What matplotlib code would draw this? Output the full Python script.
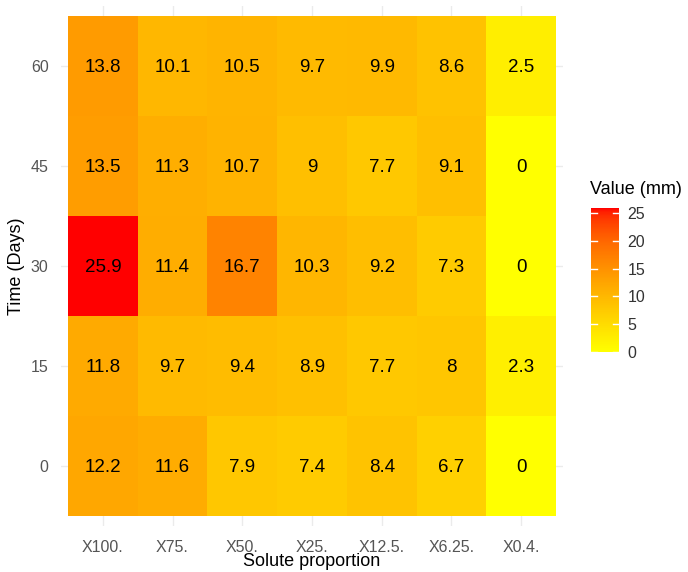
import matplotlib.pyplot as plt
import numpy as np
from matplotlib.colors import ListedColormap, Normalize

# heatmap values (mm), rows = time, cols = solute proportion
solutes = ['X100.', 'X75.', 'X50.', 'X25.', 'X12.5.', 'X6.25.', 'X0.4.']
days = ['0', '15', '30', '45', '60']
day0 = [12.2, 11.6, 7.9, 7.4, 8.4, 6.7, 0]
day15 = [11.8, 9.7, 9.4, 8.9, 7.7, 8, 2.3]
day30 = [25.9, 11.4, 16.7, 10.3, 9.2, 7.3, 0]
day45 = [13.5, 11.3, 10.7, 9, 7.7, 9.1, 0]
day60 = [13.8, 10.1, 10.5, 9.7, 9.9, 8.6, 2.5]

values = np.array([day0, day15, day30, day45, day60])


# yellow -> red gradient interpolated in Lab space
def rgb2lab(c):
    c = np.asarray(c, float)
    lin = np.where(c > 0.04045, ((c + 0.055) / 1.055) ** 2.4, c / 12.92)
    M = np.array([[0.4124, 0.3576, 0.1805],
                  [0.2126, 0.7152, 0.0722],
                  [0.0193, 0.1192, 0.9505]])
    xyz = M @ lin / np.array([0.95047, 1.0, 1.08883])
    f = np.where(xyz > 0.008856, np.cbrt(xyz), 7.787 * xyz + 16 / 116)
    return np.array([116 * f[1] - 16, 500 * (f[0] - f[1]), 200 * (f[1] - f[2])])


def lab2rgb(lab):
    L, a, b = lab
    fy = (L + 16) / 116
    fx = fy + a / 500
    fz = fy - b / 200
    f = np.array([fx, fy, fz])
    xyz = np.where(f ** 3 > 0.008856, f ** 3, (f - 16 / 116) / 7.787)
    xyz = xyz * np.array([0.95047, 1.0, 1.08883])
    Minv = np.array([[3.2406, -1.5372, -0.4986],
                     [-0.9689, 1.8758, 0.0415],
                     [0.0557, -0.2040, 1.0570]])
    lin = Minv @ xyz
    c = np.where(lin > 0.0031308, 1.055 * np.clip(lin, 0, None) ** (1 / 2.4) - 0.055, 12.92 * lin)
    return np.clip(c, 0, 1)


lab_lo = rgb2lab([1, 1, 0])
lab_hi = rgb2lab([1, 0, 0])
cols = [lab2rgb(lab_lo + t * (lab_hi - lab_lo)) for t in np.linspace(0, 1, 256)]
cmap = ListedColormap(cols)
norm = Normalize(vmin=0, vmax=values.max())

plt.rcParams['font.family'] = ['Liberation Sans', 'DejaVu Sans']

fig = plt.figure(figsize=(6.88, 5.72), dpi=100)
W, H = 688, 572
ax = fig.add_axes([61 / W, 1 - 526 / H, 502 / W, 520 / H])

ax.pcolormesh(np.arange(len(solutes) + 1) - 0.5, np.arange(len(days) + 1) - 0.5,
              values, cmap=cmap, norm=norm, zorder=2)
for i in range(len(days)):
    for j in range(len(solutes)):
        ax.text(j, i, '{:g}'.format(values[i, j]), ha='center', va='center_baseline',
                fontsize=13.5, color='black', zorder=3)

ax.set_xlim(-0.6, len(solutes) - 0.4)
ax.set_ylim(-0.6, len(days) - 0.4)
ax.set_xticks(range(len(solutes)))
ax.set_xticklabels(solutes)
ax.set_yticks(range(len(days)))
ax.set_yticklabels(days)
ax.grid(color='#ebebeb', linewidth=1.0, zorder=0)
ax.set_axisbelow(True)
for s in ax.spines.values():
    s.set_visible(False)
ax.tick_params(length=0, labelsize=11.5, labelcolor='#555555')
ax.tick_params(axis='x', pad=10)
ax.tick_params(axis='y', pad=9)
ax.set_xlabel('Solute proportion', fontsize=13, labelpad=-1)
ax.set_ylabel('Time (Days)', fontsize=13, labelpad=4)

# colour bar
cax = fig.add_axes([591 / W, 1 - 352 / H, 28 / W, 144 / H])
cb = fig.colorbar(plt.cm.ScalarMappable(norm=norm, cmap=cmap), cax=cax)
cb.outline.set_visible(False)
cb.set_ticks([0, 5, 10, 15, 20, 25])
cax.tick_params(length=0, labelsize=11.5, labelcolor='#333333', pad=6)
for t in [0, 5, 10, 15, 20, 25]:
    cax.plot([0, 0.2], [t, t], color='white', lw=1)
    cax.plot([0.8, 1], [t, t], color='white', lw=1)
cax.set_xlim(0, 1)
fig.text(590 / W, 1 - 190 / H, 'Value (mm)', fontsize=13, va='center', ha='left')

fig.savefig('out.png', dpi=100)
